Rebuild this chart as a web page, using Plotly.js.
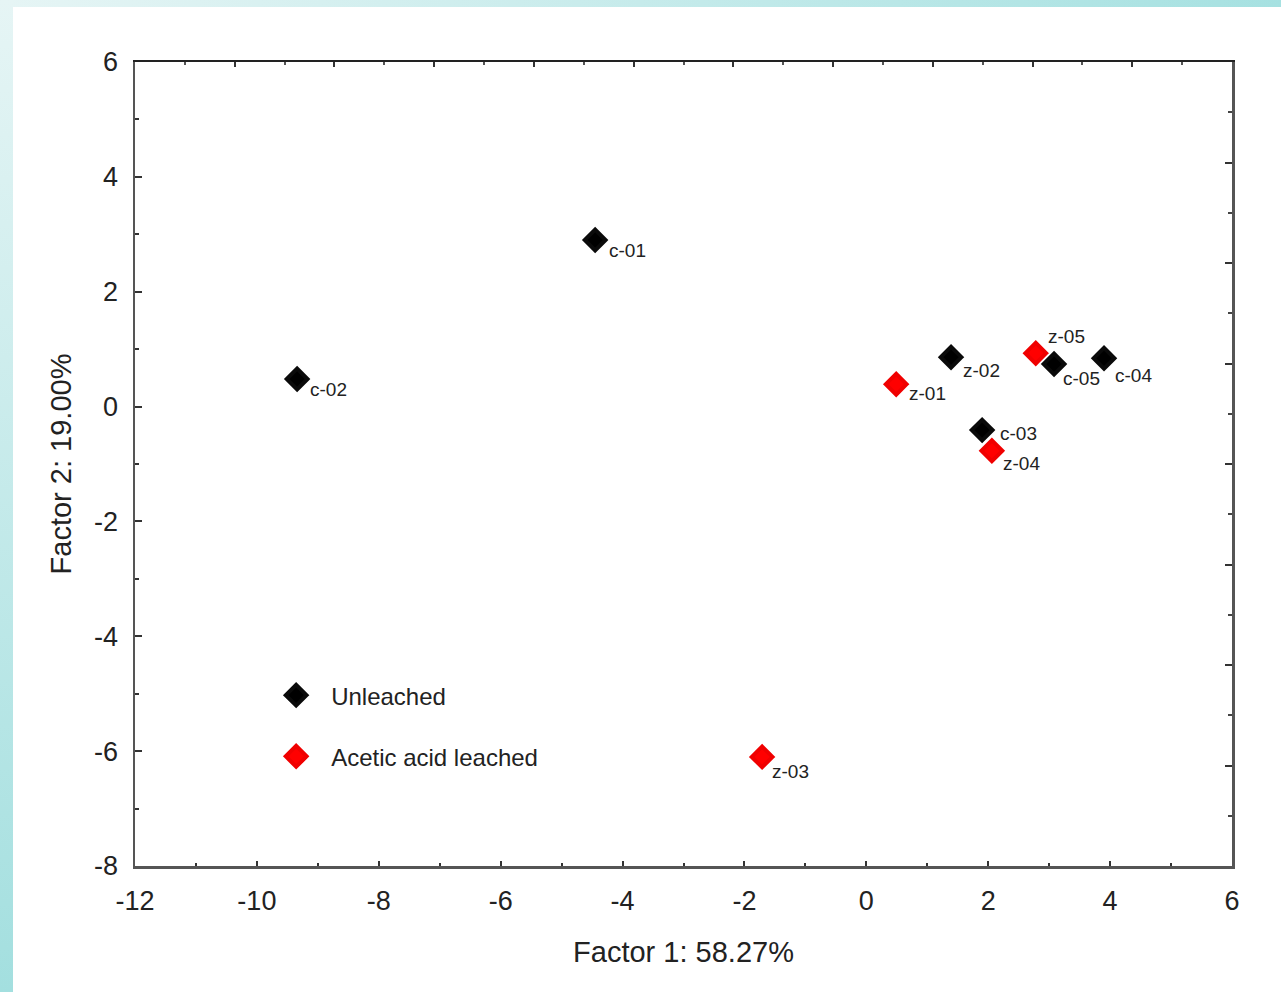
<!DOCTYPE html>
<html><head><meta charset="utf-8">
<script src="https://cdn.plot.ly/plotly-3.0.1.min.js"></script>
<style>
html,body{margin:0;padding:0;width:1281px;height:992px;overflow:hidden;background:#fff;}
#bgTop{position:absolute;left:0;top:0;width:1281px;height:7px;background:linear-gradient(to right,#e6f5f5,#a6e1e1);}
#bgLeft{position:absolute;left:0;top:0;width:13px;height:992px;background:linear-gradient(to bottom,#e6f5f5,#a3dfdf);}
#white{position:absolute;left:13px;top:7px;width:1268px;height:985px;background:#fff;}
#chart{position:absolute;left:0;top:0;width:1281px;height:992px;}
</style></head>
<body>
<div id="bgTop"></div><div id="bgLeft"></div><div id="white"></div>
<div id="chart"></div>
<script>
// Data
const unleachedNames = ["c-01","c-02","c-03","c-04","c-05","z-02"];
const unleachedF1 = [-4.45,-9.34,1.90,3.90,3.08,1.39];
const unleachedF2 = [2.90,0.48,-0.41,0.84,0.74,0.86];
const leachedNames = ["z-01","z-03","z-04","z-05"];
const leachedF1 = [0.49,-1.71,2.06,2.78];
const leachedF2 = [0.39,-6.10,-0.77,0.93];
const seriesNames = ["Unleached","Acetic acid leached"];
const xTickVals = [-12,-10,-8,-6,-4,-2,0,2,4,6];
const yTickVals = [-8,-6,-4,-2,0,2,4,6];
const xTitle = "Factor 1: 58.27%";
const yTitle = "Factor 2: 19.00%";

// label pixel offsets (style only)
const labelOffsets = {
  "c-01":[12,10],"c-02":[11,10],"c-03":[16,3],"c-04":[9,17],"c-05":[7,14],"z-02":[10,13],
  "z-01":[11,9],"z-03":[8,15],"z-04":[9,13],"z-05":[10,-17]
};

const font = "Liberation Sans, Arial, sans-serif";
const txtColor = "#222";

const traces = [
  {x:unleachedF1,y:unleachedF2,mode:"markers",type:"scatter",name:seriesNames[0],legendgroup:"a",
   marker:{symbol:"diamond",size:16,color:"#000",line:{width:4,color:"#0a0a0a"}},hoverinfo:"skip"},
  {x:leachedF1,y:leachedF2,mode:"markers",type:"scatter",name:seriesNames[1],legendgroup:"b",
   marker:{symbol:"diamond",size:16,color:"#ff0000",line:{width:4,color:"#f00000"}},hoverinfo:"skip"},
  {x:[],y:[],xaxis:"x2",yaxis:"y2",showlegend:false,type:"scatter",mode:"markers"}
];

const annotations = [];
function addLabels(names,xs,ys){
  names.forEach((n,i)=>{
    const o = labelOffsets[n] || [10,10];
    annotations.push({x:xs[i],y:ys[i],xref:"x",yref:"y",text:n,showarrow:false,
      xanchor:"left",yanchor:"middle",xshift:o[0],yshift:-o[1],
      font:{family:font,size:19,color:txtColor}});
  });
}
addLabels(unleachedNames,unleachedF1,unleachedF2);
addLabels(leachedNames,leachedF1,leachedF2);

const layout = {
  width:1281,height:992,
  paper_bgcolor:"rgba(0,0,0,0)",plot_bgcolor:"#fff",
  margin:{l:135,r:49,t:62,b:126},
  showlegend:true,
  legend:{x:0.115,y:0.24,xanchor:"left",yanchor:"top",bgcolor:"rgba(0,0,0,0)",
    font:{family:font,size:24,color:txtColor},tracegroupgap:27,itemwidth:60},
  xaxis:{range:[-12,6],tickvals:xTickVals,ticktext:xTickVals.map(String),showgrid:false,zeroline:false,
    showline:true,linecolor:"#555",linewidth:2.5,ticks:"inside",ticklen:5,tickwidth:2,tickcolor:"#333",
    minor:{dtick:1,tick0:-11,ticks:"inside",ticklen:3,tickwidth:2,tickcolor:"#333"},
    tickfont:{family:font,size:27,color:txtColor},ticklabelstandoff:9,
    title:{text:xTitle,font:{family:font,size:29,color:txtColor},standoff:27}},
  yaxis:{range:[-8,6],tickvals:yTickVals,ticktext:yTickVals.map(String),showgrid:false,zeroline:false,
    showline:true,linecolor:"#555",linewidth:2.5,ticks:"inside",ticklen:7,tickwidth:2,tickcolor:"#333",
    minor:{dtick:1,tick0:-7,ticks:"inside",ticklen:4,tickwidth:2,tickcolor:"#333"},
    tickfont:{family:font,size:27,color:txtColor},ticklabelstandoff:9,
    title:{text:yTitle,font:{family:font,size:29,color:txtColor},standoff:14}},
  xaxis2:{overlaying:"x",side:"top",anchor:"y",range:[0,11],dtick:1,tick0:0,showticklabels:false,
    showgrid:false,zeroline:false,showline:true,linecolor:"#222",linewidth:2,
    ticks:"inside",ticklen:5,tickwidth:2,tickcolor:"#333",
    minor:{dtick:0.5,ticks:"inside",ticklen:3,tickwidth:2,tickcolor:"#555"}},
  yaxis2:{overlaying:"y",side:"right",anchor:"x",range:[0,8],dtick:1,tick0:0,showticklabels:false,
    showgrid:false,zeroline:false,showline:true,linecolor:"#555",linewidth:3,
    ticks:"inside",ticklen:7,tickwidth:2,tickcolor:"#333",
    minor:{dtick:0.5,ticks:"inside",ticklen:4,tickwidth:2,tickcolor:"#444"}},
  annotations:annotations
};
Plotly.newPlot("chart",traces,layout,{displayModeBar:false,staticPlot:true});
</script>
</body></html>
